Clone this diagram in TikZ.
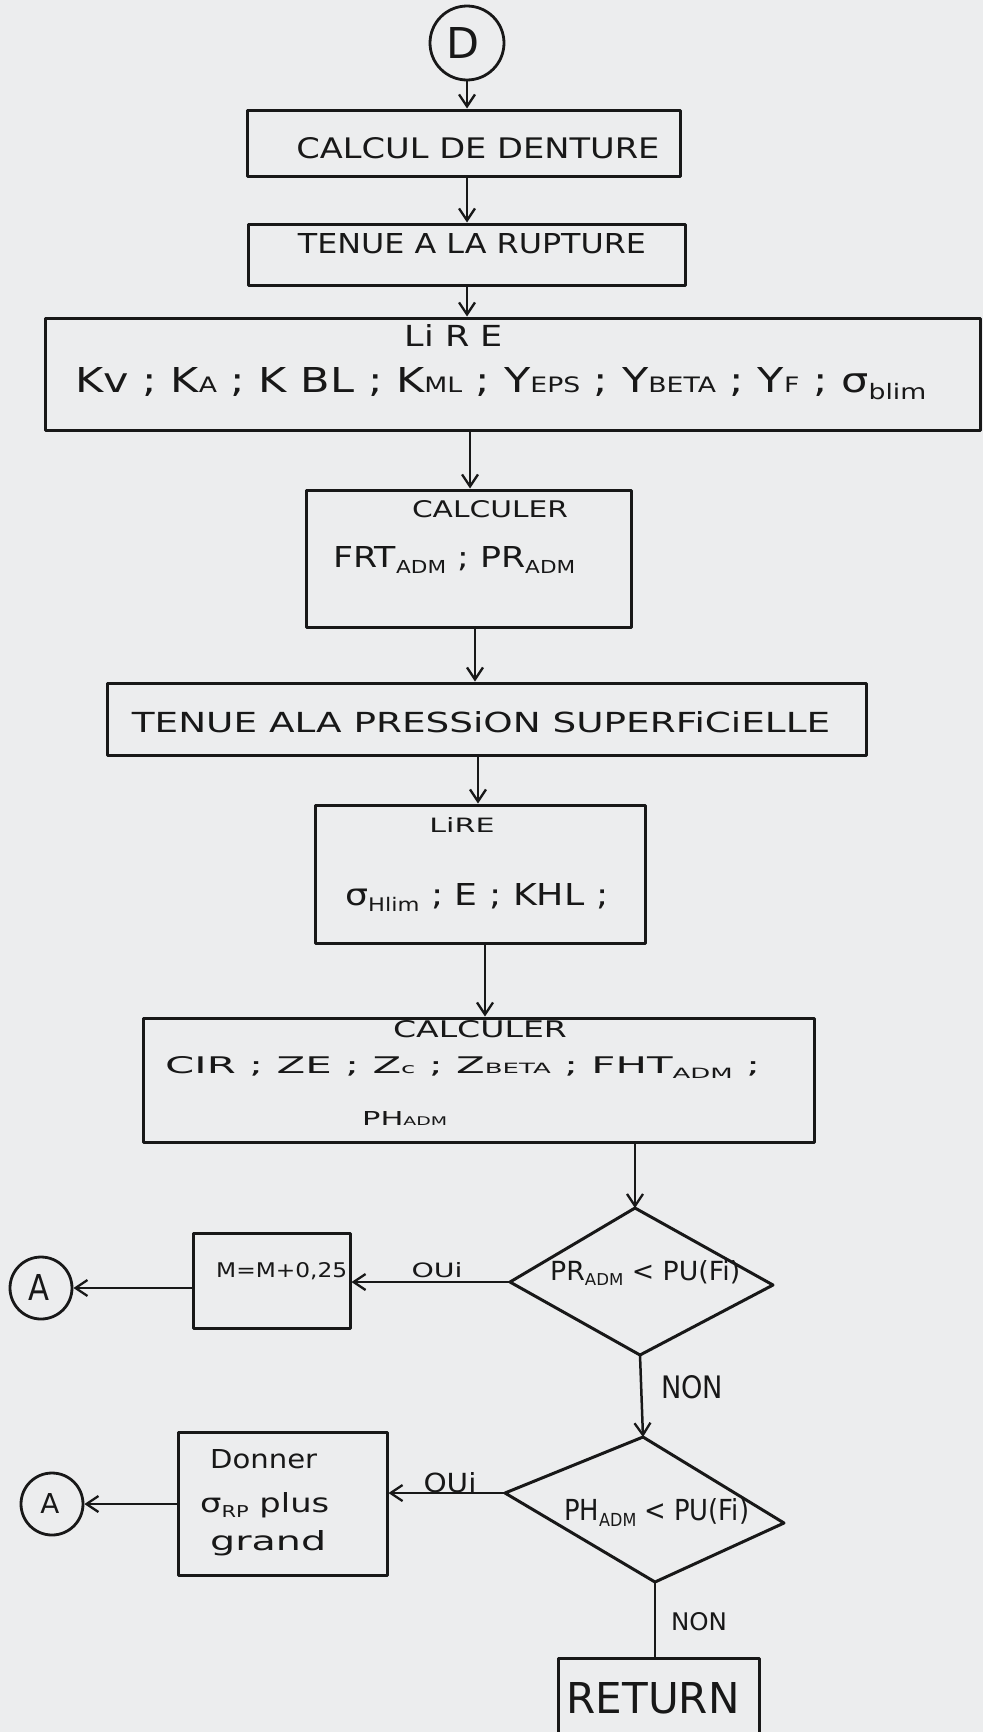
\documentclass[tikz,border=0pt]{standalone}
\usepackage{fontspec}
\setmainfont{DejaVu Sans}
\usepackage{graphicx}
\usetikzlibrary{arrows.meta}
\definecolor{paper}{RGB}{236,237,238}
\definecolor{ink}{RGB}{24,24,24}
% small letters on the baseline, and lowered index letters
\newcommand\smtx[1]{\scalebox{0.62}{#1}}
\newcommand\lotx[1]{\raisebox{-0.4ex}{\scalebox{0.62}{#1}}}
% text set to a given width and cap height (pt)
\newcommand\fittx[3]{\resizebox{#1pt}{#2pt}{#3}}
\begin{document}
\begin{tikzpicture}[x=1pt,y=-1pt,line join=round,
  box/.style={draw=ink,line width=3pt,inner sep=0pt},
  ring/.style={draw=ink,circle,line width=2.8pt,inner sep=0pt},
  tx/.style={inner sep=0pt,anchor=base,text=ink},
  txl/.style={tx,anchor=base west},
  arr/.style={draw=ink,line width=2.5pt,-{Straight Barb[length=12pt,width=16pt,line width=2.3pt]}},
  wire/.style={draw=ink,line width=2.5pt}]

\fill[paper] (0,0) rectangle (983,1732);
\useasboundingbox (0,0) rectangle (983,1732);

% ---- main column ----
\node[ring,minimum size=74pt] (d) at (467,43) {};
\node[box,minimum width=433pt,minimum height=66pt] (b1) at (463.5,143) {};
\node[box,minimum width=437pt,minimum height=61pt] (b2) at (466.5,254.5) {};
\node[box,minimum width=935pt,minimum height=112pt] (b3) at (512.5,374) {};
\node[box,minimum width=325pt,minimum height=137pt] (b4) at (468.5,558.5) {};
\node[box,minimum width=759pt,minimum height=72pt] (b5) at (486.5,719) {};
\node[box,minimum width=330pt,minimum height=138pt] (b6) at (480,874) {};
\node[box,minimum width=671pt,minimum height=124pt] (b7) at (478.5,1080) {};

% ---- decisions ----
\coordinate (q1t) at (635,1208);
\coordinate (q1r) at (773,1285);
\coordinate (q1b) at (640,1355);
\coordinate (q1l) at (510,1282);
\draw[box] (q1t) -- (q1r) -- (q1b) -- (q1l) -- cycle;

\coordinate (q2t) at (643,1437);
\coordinate (q2r) at (784,1523);
\coordinate (q2b) at (655,1582);
\coordinate (q2l) at (505,1493);
\draw[box] (q2t) -- (q2r) -- (q2b) -- (q2l) -- cycle;

% ---- side branches ----
\node[box,minimum width=157pt,minimum height=95pt] (m) at (271.5,1280.5) {};
\node[ring,minimum size=62pt] (a1) at (41,1288) {};
\node[box,minimum width=209pt,minimum height=143pt] (g) at (282.5,1503.5) {};
\node[ring,minimum size=62pt] (a2) at (52,1504) {};
\node[box,minimum width=201pt,minimum height=87pt] (ret) at (658.5,1701.5) {};

% ---- texts ----
\node[tx] (dl) at (463,58) {\fittx{33}{31}{D}};
\node[tx] (t1) at (478,158) {\fittx{363}{21}{CALCUL DE DENTURE}};
\node[tx] (t2) at (472,253) {\fittx{348}{20}{TENUE A LA RUPTURE}};
\node[tx] (t3a) at (454,346) {\fittx{98}{22}{Li R E}};
\node[txl] (t3b) at (75,392) {\fittx{851}{25}{Kv ; K\smtx{A} ; K BL ; K\smtx{ML} ; Y\smtx{EPS} ; Y\smtx{BETA} ; Y\smtx{F} ; σ\lotx{blim}}};
\node[tx] (t4a) at (490,517) {\fittx{156}{17}{CALCULER}};
\node[txl] (t4b) at (333,567) {\fittx{242}{21}{FRT\lotx{ADM} ; PR\lotx{ADM}}};
\node[tx] (t5) at (481,732) {\fittx{698}{21}{TENUE ALA PRESSiON SUPERFiCiELLE}};
\node[tx] (t6a) at (462,832) {\fittx{65}{15}{LiRE}};
\node[txl] (t6b) at (345,905) {\fittx{263}{22}{σ\lotx{Hlim} ; E ; KHL ;}};
\node[tx] (t7a) at (480,1037) {\fittx{174}{17}{CALCULER}};
\node[txl] (t7b) at (165,1073) {\fittx{595}{17}{CIR ; ZE ; Z\smtx{c} ; Z\smtx{BETA} ; FHT\lotx{ADM} ;}};
\node[txl] (t7c) at (362,1125) {\fittx{85}{14}{PH\smtx{ADM}}};
\node[txl] (tq1) at (550,1280) {\fittx{190}{20}{PR\lotx{ADM} < PU(Fi)}};
\node[txl] (tq2) at (564,1520) {\fittx{185}{22}{PH\lotx{ADM} < PU(Fi)}};
\node[txl] (tm) at (216,1277) {\fittx{131}{15}{M=M+0,25}};
\node[txl] (tg1) at (210,1468) {\fittx{107}{19}{Donner}};
\node[txl] (tg2) at (200,1512) {\fittx{129}{20}{σ\lotx{RP} plus}};
\node[txl] (tg3) at (210,1550) {\fittx{116}{20}{grand}};
\node[tx] (tr) at (653,1713) {\fittx{173}{31}{RETURN}};
\node[tx] (o1) at (437,1277) {\fittx{51}{15}{OUi}};
\node[tx] (n1) at (692,1398) {\fittx{62}{23}{NON}};
\node[tx] (o2) at (450,1492) {\fittx{53}{20}{OUi}};
\node[tx] (n2) at (699,1630) {\fittx{56}{18}{NON}};
\node[tx] (al1) at (39,1300) {\fittx{21}{26}{A}};
\node[tx] (al2) at (50,1513) {\fittx{19}{20}{A}};

% ---- connectors ----
\coordinate (ax1) at (470,0);
\coordinate (ax2) at (475,0);
\coordinate (ax3) at (478,0);
\coordinate (ax4) at (485,0);
\draw[arr] (d.south) -- (d.south |- b1.north);
\draw[arr] (b1.south -| d) -- (b2.north -| d);
\draw[arr] (b2.south -| d) -- (b3.north -| d);
\draw[arr] (b3.south -| ax1) -- (b4.north -| ax1);
\draw[arr] (b4.south -| ax2) -- (b5.north -| ax2);
\draw[arr] (b5.south -| ax3) -- (b6.north -| ax3);
\draw[arr] (b6.south -| ax4) -- (b7.north -| ax4);
\draw[arr] (b7.south -| q1t) -- (q1t);
\draw[arr] (q1b) -- (q2t);
\draw[arr] (q1l) -- (q1l -| m.east);
\draw[arr] (m.west |- a1) -- (a1.east);
\draw[arr] (q2l) -- (q2l -| g.east);
\draw[arr] (g.west |- a2) -- (a2.east);
\draw[wire] (q2b) -- (q2b |- ret.north);
\end{tikzpicture}
\end{document}
